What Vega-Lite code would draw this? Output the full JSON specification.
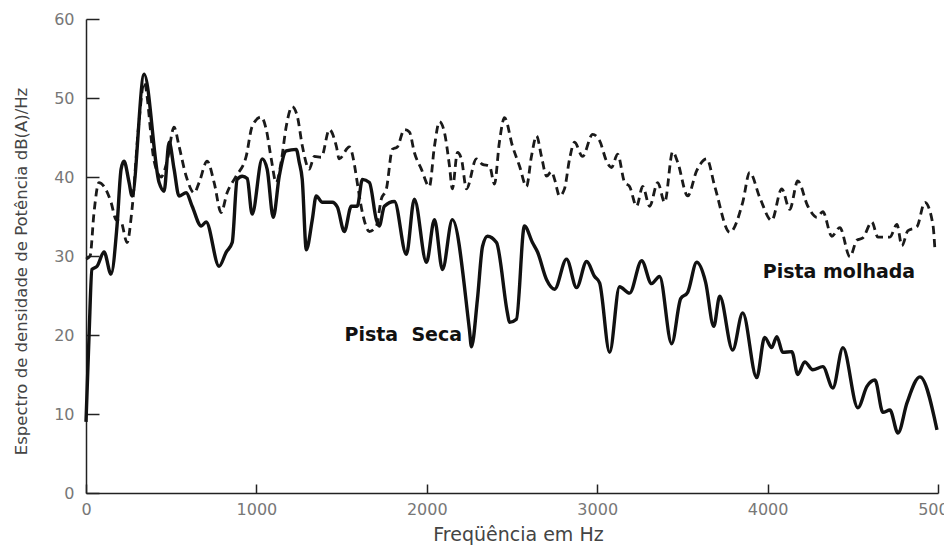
{
  "$schema": "https://vega.github.io/schema/vega-lite/v6.json",
  "width": 852,
  "height": 474,
  "autosize": {"type": "none"},
  "padding": {"left": 86, "top": 19, "right": 6, "bottom": 55},
  "background": "white",
  "config": {"view": {"stroke": null}},
  "datasets": {
    "seca": [
      {"f":0,"v":9},{"f":18,"v":20},{"f":35,"v":28.3},{"f":65,"v":28.7},{"f":106,"v":30.5},{"f":147,"v":27.7},{"f":182,"v":33.8},{"f":206,"v":41},{"f":223,"v":42},{"f":253,"v":39.3},{"f":270,"v":37.6},{"f":341,"v":53},{"f":429,"v":39.3},{"f":458,"v":38.2},{"f":488,"v":44.4},{"f":517,"v":41},{"f":546,"v":37.6},{"f":588,"v":38},{"f":623,"v":36.3},{"f":676,"v":33.8},{"f":705,"v":34.3},{"f":781,"v":28.7},{"f":823,"v":30.5},{"f":858,"v":31.7},{"f":887,"v":39.7},{"f":917,"v":40.1},{"f":946,"v":39.8},{"f":975,"v":35.3},{"f":1034,"v":42.3},{"f":1063,"v":41},{"f":1099,"v":34.9},{"f":1134,"v":40.1},{"f":1175,"v":43.3},{"f":1234,"v":43.5},{"f":1251,"v":41.9},{"f":1269,"v":39.7},{"f":1293,"v":30.8},{"f":1328,"v":34.6},{"f":1351,"v":37.6},{"f":1387,"v":36.8},{"f":1445,"v":36.8},{"f":1475,"v":36.2},{"f":1516,"v":33.1},{"f":1557,"v":36.3},{"f":1592,"v":36.3},{"f":1622,"v":39.7},{"f":1663,"v":39.3},{"f":1704,"v":34.6},{"f":1721,"v":33.8},{"f":1751,"v":36.3},{"f":1810,"v":36.9},{"f":1880,"v":30.2},{"f":1927,"v":37.2},{"f":1998,"v":29.2},{"f":2045,"v":34.6},{"f":2092,"v":28.3},{"f":2150,"v":34.6},{"f":2250,"v":20.7},{"f":2262,"v":18.5},{"f":2297,"v":24.5},{"f":2327,"v":31.2},{"f":2356,"v":32.5},{"f":2409,"v":31.7},{"f":2473,"v":22.8},{"f":2485,"v":21.6},{"f":2526,"v":22},{"f":2573,"v":33.8},{"f":2620,"v":31.7},{"f":2650,"v":30.5},{"f":2703,"v":27},{"f":2750,"v":25.8},{"f":2820,"v":29.6},{"f":2879,"v":26},{"f":2938,"v":29.3},{"f":2985,"v":27.4},{"f":3014,"v":26.6},{"f":3073,"v":17.8},{"f":3131,"v":26.1},{"f":3190,"v":25.3},{"f":3261,"v":29.4},{"f":3319,"v":26.5},{"f":3366,"v":27.4},{"f":3437,"v":18.9},{"f":3490,"v":24.6},{"f":3531,"v":25.4},{"f":3584,"v":29.2},{"f":3636,"v":26.7},{"f":3684,"v":21.1},{"f":3719,"v":24.9},{"f":3795,"v":18.1},{"f":3854,"v":22.8},{"f":3936,"v":14.6},{"f":3983,"v":19.7},{"f":4024,"v":18.4},{"f":4054,"v":19.8},{"f":4089,"v":17.8},{"f":4142,"v":17.9},{"f":4177,"v":15},{"f":4218,"v":16.6},{"f":4265,"v":15.6},{"f":4324,"v":16},{"f":4383,"v":13.3},{"f":4442,"v":18.4},{"f":4530,"v":10.8},{"f":4583,"v":13.5},{"f":4630,"v":14.3},{"f":4677,"v":10.2},{"f":4718,"v":10.5},{"f":4765,"v":7.6},{"f":4818,"v":11.4},{"f":4894,"v":14.7},{"f":4994,"v":8}
    ],
    "molhada": [
      {"f":0,"v":29.6},{"f":24,"v":30},{"f":47,"v":35.5},{"f":76,"v":39.3},{"f":106,"v":38.8},{"f":147,"v":36.8},{"f":176,"v":34.6},{"f":206,"v":34.3},{"f":241,"v":31.7},{"f":270,"v":35.9},{"f":311,"v":47},{"f":341,"v":52},{"f":400,"v":42},{"f":441,"v":40},{"f":476,"v":42},{"f":517,"v":46.3},{"f":546,"v":43.9},{"f":588,"v":40.1},{"f":635,"v":38},{"f":664,"v":39.3},{"f":711,"v":42},{"f":752,"v":39.3},{"f":793,"v":35.5},{"f":828,"v":38},{"f":881,"v":40.1},{"f":940,"v":42.6},{"f":975,"v":46.4},{"f":1028,"v":47.6},{"f":1058,"v":46},{"f":1087,"v":42.3},{"f":1116,"v":39.3},{"f":1146,"v":42},{"f":1175,"v":46.4},{"f":1210,"v":48.9},{"f":1240,"v":47.7},{"f":1269,"v":44},{"f":1310,"v":41},{"f":1340,"v":42.6},{"f":1381,"v":42.5},{"f":1428,"v":46},{"f":1469,"v":43.9},{"f":1486,"v":42.3},{"f":1545,"v":43.8},{"f":1575,"v":41.6},{"f":1586,"v":40.1},{"f":1622,"v":35.5},{"f":1663,"v":33.1},{"f":1704,"v":33.8},{"f":1733,"v":37.2},{"f":1763,"v":38.5},{"f":1798,"v":43.5},{"f":1827,"v":43.8},{"f":1868,"v":46},{"f":1898,"v":45.7},{"f":1927,"v":43.1},{"f":1968,"v":41},{"f":2015,"v":38.8},{"f":2045,"v":43.9},{"f":2074,"v":47},{"f":2103,"v":45.7},{"f":2133,"v":41.4},{"f":2150,"v":38.5},{"f":2180,"v":43.1},{"f":2203,"v":42.3},{"f":2233,"v":38.5},{"f":2291,"v":42.3},{"f":2327,"v":41.6},{"f":2368,"v":41.4},{"f":2397,"v":39.1},{"f":2426,"v":44.4},{"f":2456,"v":47.5},{"f":2503,"v":43.9},{"f":2544,"v":41.4},{"f":2585,"v":38.8},{"f":2614,"v":42.6},{"f":2644,"v":45.2},{"f":2673,"v":42.6},{"f":2703,"v":40.1},{"f":2732,"v":40.7},{"f":2750,"v":39.7},{"f":2779,"v":37.6},{"f":2808,"v":38.5},{"f":2838,"v":42.3},{"f":2867,"v":44.4},{"f":2914,"v":42.6},{"f":2973,"v":45.4},{"f":3014,"v":44.6},{"f":3055,"v":42},{"f":3084,"v":41.2},{"f":3120,"v":42.9},{"f":3161,"v":39.3},{"f":3190,"v":38.8},{"f":3231,"v":36.3},{"f":3267,"v":38.8},{"f":3308,"v":36.3},{"f":3355,"v":39.3},{"f":3396,"v":36.8},{"f":3443,"v":43.2},{"f":3472,"v":41.9},{"f":3531,"v":37.6},{"f":3584,"v":40.8},{"f":3643,"v":42.3},{"f":3690,"v":38.8},{"f":3778,"v":33},{"f":3854,"v":36.8},{"f":3895,"v":40.6},{"f":3954,"v":37.4},{"f":4024,"v":34.5},{"f":4083,"v":38.5},{"f":4130,"v":35.9},{"f":4177,"v":39.5},{"f":4236,"v":36.3},{"f":4289,"v":34.9},{"f":4324,"v":35.6},{"f":4377,"v":32.5},{"f":4424,"v":33.6},{"f":4483,"v":29.9},{"f":4524,"v":32},{"f":4559,"v":32.3},{"f":4612,"v":34.3},{"f":4647,"v":32.4},{"f":4718,"v":32.4},{"f":4759,"v":34},{"f":4788,"v":31.3},{"f":4823,"v":33.2},{"f":4876,"v":33.7},{"f":4923,"v":36.8},{"f":4970,"v":34},{"f":4982,"v":30.8}
    ],
    "labels": [
      {"f":2207,"v":20,"t":"Pista\u00a0\u00a0Seca"},
      {"f":4866,"v":28,"t":"Pista molhada"}
    ]
  },
  "encoding": {
    "x": {
      "field": "f", "type": "quantitative",
      "scale": {"domain": [0, 5000], "nice": false, "zero": false},
      "axis": {
        "title": "Freqüência em Hz",
        "values": [0, 1000, 2000, 3000, 4000, 5000],
        "format": "d",
        "grid": false,
        "labelFlush": false,
        "domainColor": "#222", "domainWidth": 1.5,
        "tickColor": "#222", "tickWidth": 1.5, "tickSize": -9,
        "labelPadding": 17, "labelFont": "DejaVu Sans", "labelFontSize": 16, "labelColor": "#777",
        "titleFont": "DejaVu Sans", "titleFontSize": 19, "titleFontWeight": "normal", "titleColor": "#444", "titlePadding": 8, "titleX": 432
      }
    },
    "y": {
      "field": "v", "type": "quantitative",
      "scale": {"domain": [0, 60], "nice": false},
      "axis": {
        "title": "Espectro de densidade de Potência dB(A)/Hz",
        "values": [0, 10, 20, 30, 40, 50, 60],
        "grid": false,
        "labelFlush": false,
        "domainColor": "#222", "domainWidth": 1.5,
        "tickColor": "#222", "tickWidth": 1.5, "tickSize": -13,
        "labelPadding": 25, "labelFont": "DejaVu Sans", "labelFontSize": 16, "labelColor": "#777",
        "titleFont": "DejaVu Sans", "titleFontSize": 16.5, "titleFontWeight": "normal", "titleColor": "#444", "titlePadding": 24, "titleY": 252
      }
    }
  },
  "layer": [
    {
      "data": {"name": "molhada"},
      "mark": {"type": "line", "color": "#1a1a1a", "strokeWidth": 2.8, "strokeDash": [8, 5], "interpolate": "monotone"},
      "encoding": {}
    },
    {
      "data": {"name": "seca"},
      "mark": {"type": "line", "color": "#111", "strokeWidth": 3.4, "interpolate": "monotone"},
      "encoding": {}
    },
    {
      "data": {"name": "labels"},
      "mark": {"type": "text", "font": "DejaVu Sans", "fontWeight": "bold", "fontSize": 19, "color": "#111", "baseline": "middle", "align": "right"},
      "encoding": {
        "text": {"field": "t"}
      }
    }
  ]
}
